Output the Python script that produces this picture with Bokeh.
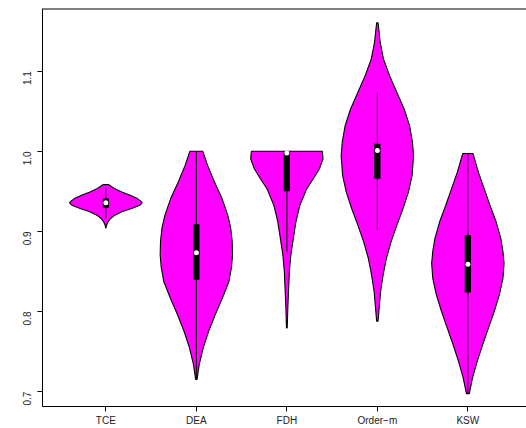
import numpy as np
from bokeh.plotting import figure
from bokeh.models import FixedTicker, Range1d, ColumnDataSource, Span
from bokeh.embed import file_html
from bokeh.resources import INLINE

categories = ["TCE", "DEA", "FDH", "Order\u2212m", "KSW"]
positions = [1, 2, 3, 4, 5]

# density outlines (value, relative half-width), bottom to top
tce_y = [0.9037, 0.9078, 0.9120, 0.9161, 0.9203, 0.9245, 0.9286, 0.9327, 0.9352,
         0.9369, 0.9410, 0.9451, 0.9493, 0.9534, 0.9560, 0.9584]
tce_w = [0.0, 0.02, 0.06, 0.13, 0.25, 0.44, 0.71, 0.94, 1.0,
         0.99, 0.87, 0.67, 0.44, 0.25, 0.15, 0.08]

dea_y = [0.7153, 0.734, 0.7547, 0.7754, 0.796, 0.8168, 0.8375, 0.855, 0.8706,
         0.8875, 0.9040, 0.920, 0.941, 0.9617, 0.9824, 1.0]
dea_w = [0.02, 0.08, 0.19, 0.34, 0.52, 0.72, 0.90, 0.97, 1.0,
         0.99, 0.95, 0.87, 0.71, 0.50, 0.31, 0.18]

fdh_y = [0.7795, 0.8085, 0.829, 0.85, 0.8706, 0.8913, 0.912, 0.9327, 0.9534,
         0.9658, 0.9783, 0.9907, 1.0]
fdh_w = [0.01, 0.03, 0.05, 0.07, 0.11, 0.18, 0.25, 0.36, 0.55,
         0.73, 0.90, 1.0, 0.98]

ord_y = [0.7878, 0.8043, 0.825, 0.8457, 0.8665, 0.8872, 0.9078, 0.9286, 0.9493,
         0.970, 0.9948, 1.0114, 1.032, 1.0528, 1.0735, 1.0942, 1.1149, 1.1356, 1.1605]
ord_w = [0.02, 0.05, 0.09, 0.16, 0.25, 0.38, 0.54, 0.71, 0.86,
         0.96, 1.0, 0.97, 0.89, 0.74, 0.54, 0.34, 0.17, 0.08, 0.02]

ksw_y = [0.6975, 0.7174, 0.7381, 0.7588, 0.7795, 0.8003, 0.8209, 0.8416, 0.8602,
         0.8748, 0.8913, 0.912, 0.9327, 0.9534, 0.9741, 0.9973]
ksw_w = [0.04, 0.13, 0.26, 0.41, 0.57, 0.73, 0.87, 0.97, 1.0,
         0.97, 0.91, 0.78, 0.61, 0.45, 0.29, 0.14]

# box statistics
q1 = [0.9294, 0.8395, 0.950, 0.9658, 0.8238]
q3 = [0.9410, 0.9090, 0.999, 1.0093, 0.8954]
medians = [0.9357, 0.8735, 0.998, 1.001, 0.859]
whisk_lo = [0.9161, 0.7153, 0.875, 0.9016, 0.6975]
whisk_hi = [0.9543, 1.0, 1.0, 1.0735, 0.9973]

y_ticks = [0.7, 0.8, 0.9, 1.0, 1.1]
y_tick_labels = ["0.7", "0.8", "0.9", "1.0", "1.1"]

Y_START, Y_END = 0.6814, 1.1783
HALF = 0.4
BOXW = 0.07

profiles = [(tce_y, tce_w), (dea_y, dea_w), (fdh_y, fdh_w), (ord_y, ord_w), (ksw_y, ksw_w)]
xs, ys = [], []
for pos, (py, pw) in zip(positions, profiles):
    py = np.array(py)
    pw = np.array(pw)
    left = pos - pw * HALF
    right = pos + pw * HALF
    xs.append(list(left) + list(right[::-1]))
    ys.append(list(py) + list(py[::-1]))

p = figure(width=526, height=428, output_backend="svg", toolbar_location=None,
           x_range=Range1d(0.3, 5.648), y_range=Range1d(Y_START, Y_END),
           min_border_left=42, min_border_right=0, min_border_top=8,
           min_border_bottom=20)
p.outline_line_color = None
p.grid.visible = False
p.background_fill_color = "white"
p.border_fill_color = "white"

p.patches(xs=xs, ys=ys, fill_color="#FF00FF", line_color="black", line_width=1.1)

src = ColumnDataSource(dict(x=positions, q1=q1, q3=q3, med=medians, lo=whisk_lo, hi=whisk_hi,
                            l=[x - BOXW / 2 for x in positions], r=[x + BOXW / 2 for x in positions]))
p.segment(x0="x", y0="lo", x1="x", y1="hi", source=src, line_color="black", line_width=1)
p.quad(left="l", right="r", bottom="q1", top="q3", source=src, fill_color="black", line_color=None)
p.scatter(x="x", y="med", source=src, size=5, fill_color="white", line_color=None)

# top edge of the box
p.add_layout(Span(location=Y_END, dimension="width", line_color="black", line_width=2))

font = "Liberation Sans"
xa = p.xaxis[0]
xa.ticker = FixedTicker(ticks=positions)
xa.major_label_overrides = {pos: c for pos, c in zip(positions, categories)}
ya = p.yaxis[0]
ya.ticker = FixedTicker(ticks=y_ticks)
ya.major_label_overrides = {t: s for t, s in zip(y_ticks, y_tick_labels)}
ya.major_label_orientation = np.pi / 2
for ax in (xa, ya):
    ax.axis_line_color = "black"
    ax.major_tick_line_color = "black"
    ax.major_tick_out = 5
    ax.major_tick_in = 0
    ax.minor_tick_line_color = None
    ax.major_label_text_font = font
    ax.major_label_text_font_size = "10px"
    ax.major_label_text_color = "#222222"
xa.major_label_standoff = 3
ya.major_label_standoff = 10

open("out.html", "w").write(file_html(p, INLINE))
